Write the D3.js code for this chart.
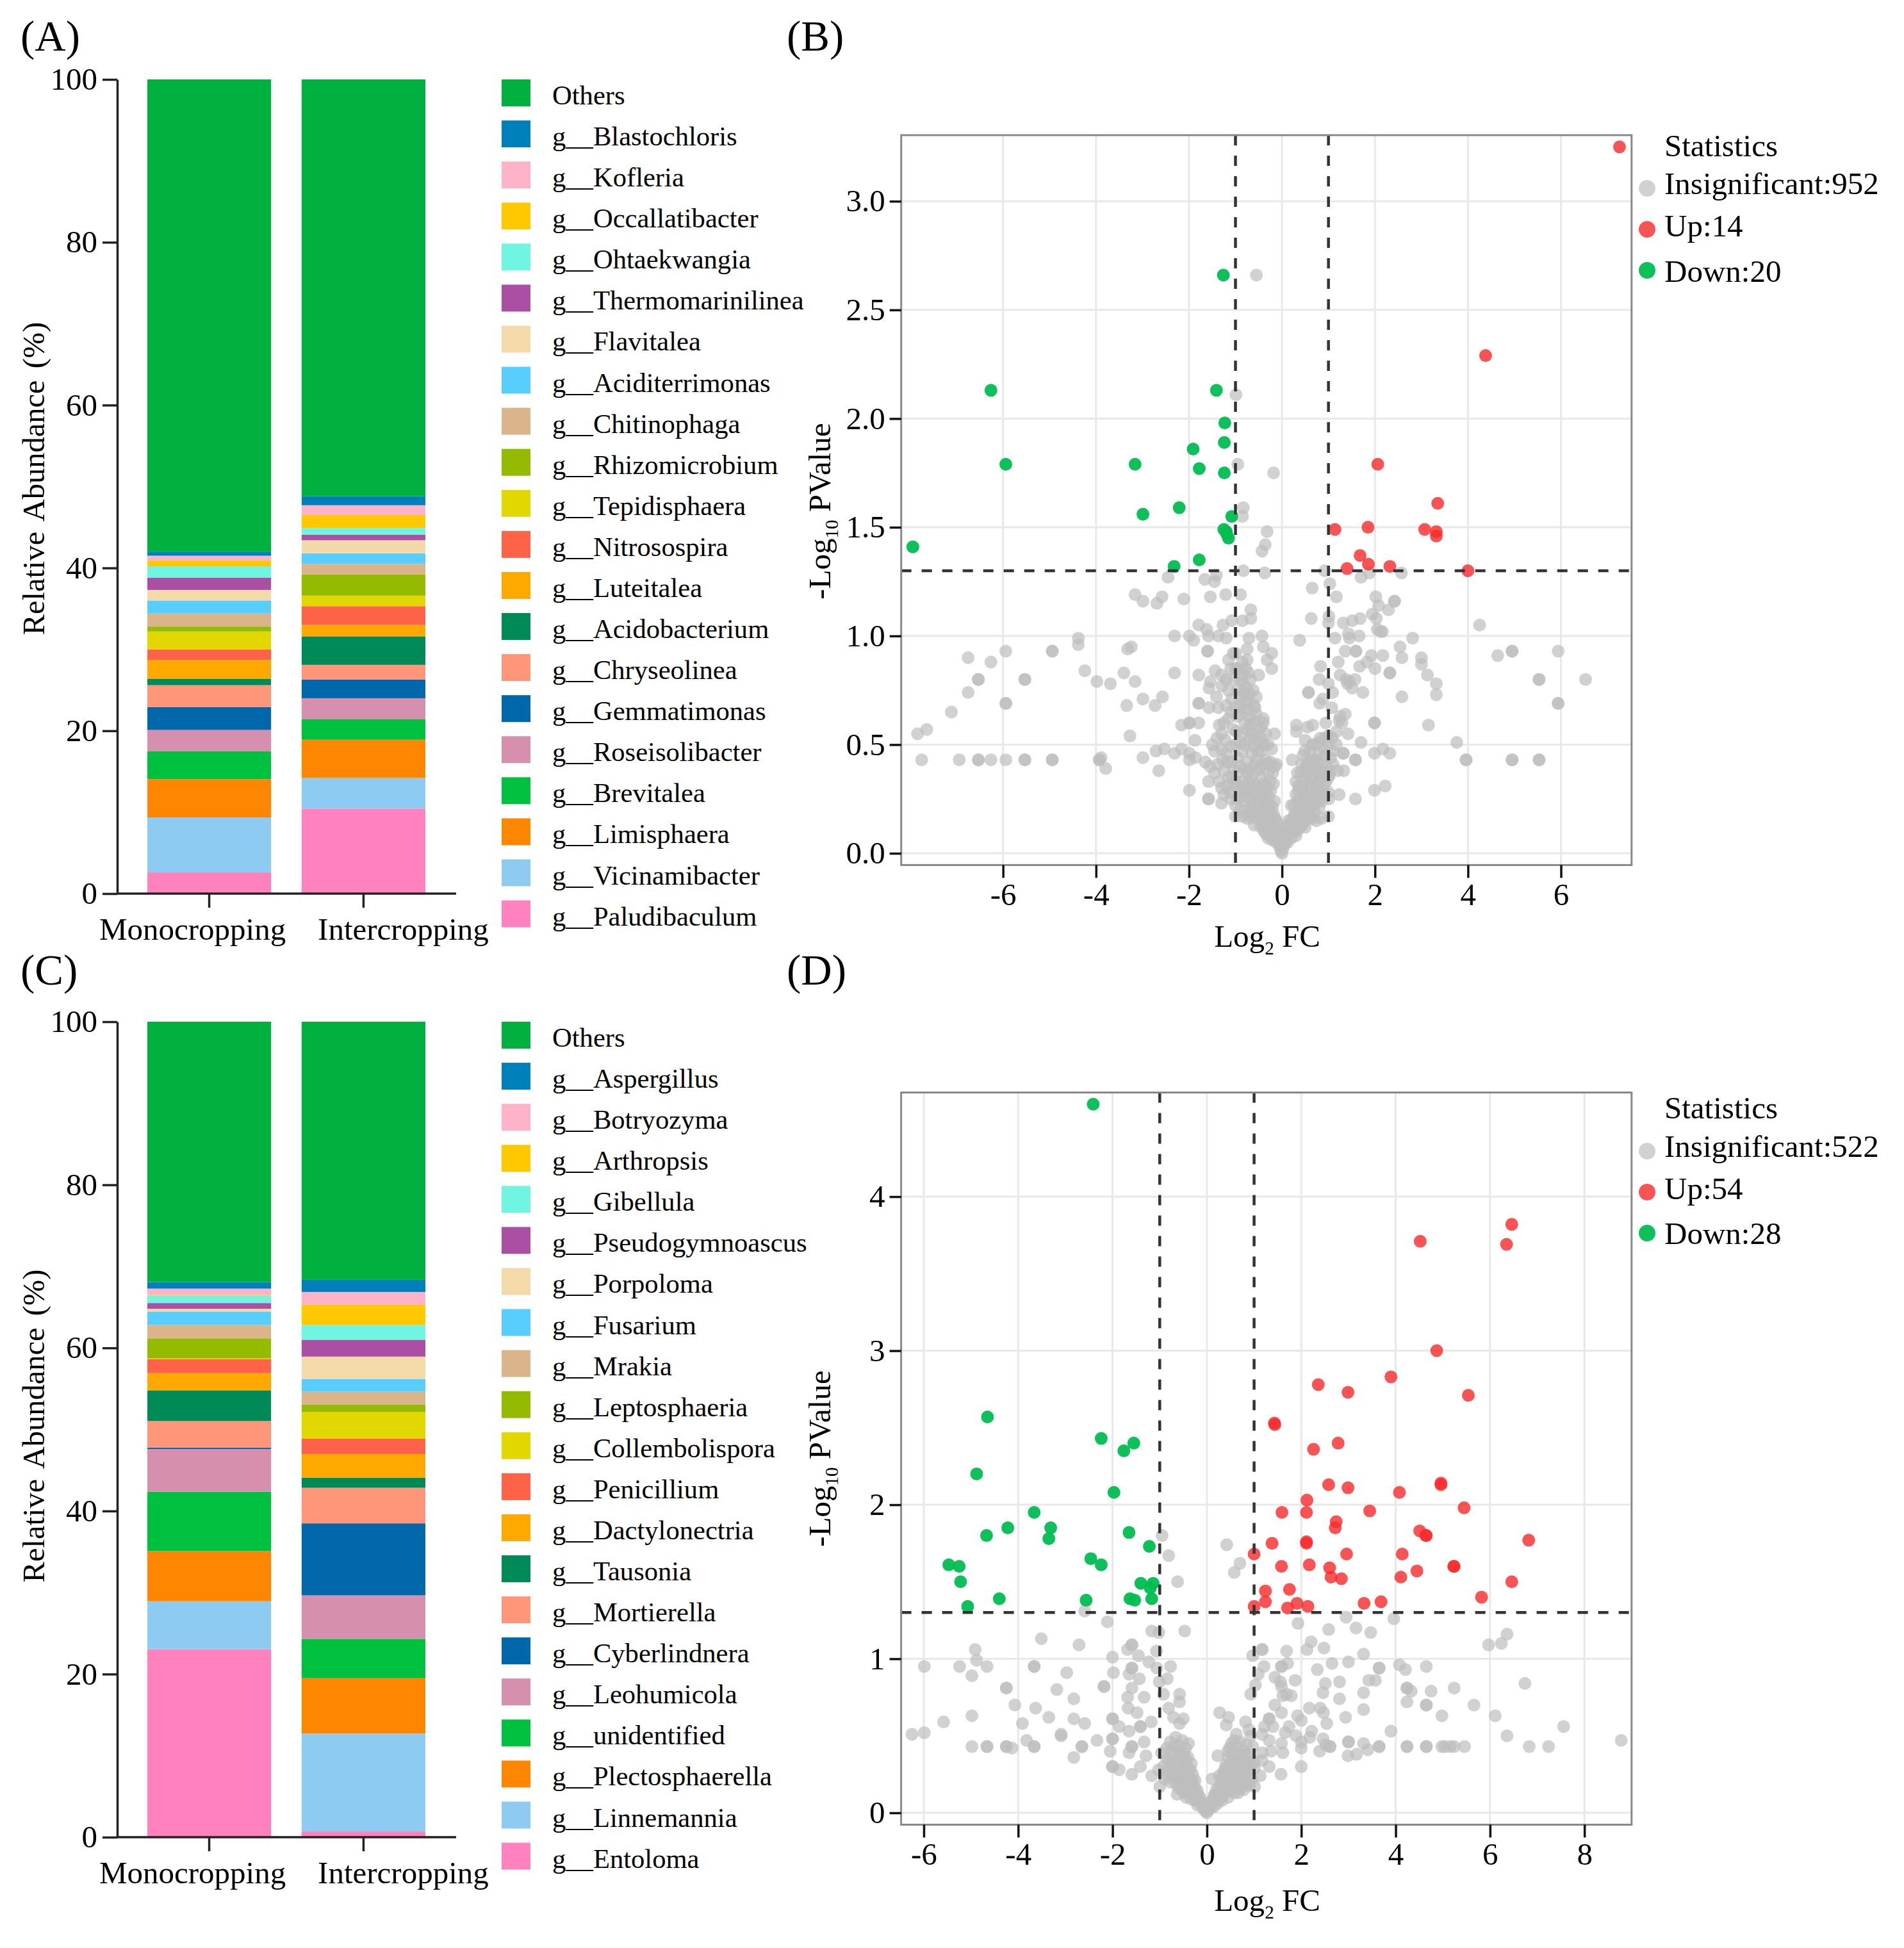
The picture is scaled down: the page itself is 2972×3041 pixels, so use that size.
<!DOCTYPE html>
<html>
<head>
<meta charset="utf-8">
<script src="https://cdn.jsdelivr.net/npm/d3@7"></script>
<style>
  body { margin: 0; background: #fff; }
  text { font-family: "Liberation Serif", serif; fill: #000; }
</style>
</head>
<body>
<div id="chart"></div>
<script>
// stacked bars, bottom segment first
const groups = ["Monocropping", "Intercropping"];
const barColors = ["#FF82BF", "#8ECBF2", "#FF8600", "#00C040", "#D78FAE", "#0068AA", "#FF9679", "#008A57", "#FFA800", "#FF6347", "#E2D700", "#95BB00", "#DBB48A", "#58CEFF", "#F4D9A9", "#AB4FA5", "#70F5E3", "#FFC800", "#FFB3C9", "#0080BB", "#00B140"];

const generaA = ["g__Paludibaculum", "g__Vicinamibacter", "g__Limisphaera", "g__Brevitalea", "g__Roseisolibacter", "g__Gemmatimonas", "g__Chryseolinea", "g__Acidobacterium", "g__Luteitalea", "g__Nitrosospira", "g__Tepidisphaera", "g__Rhizomicrobium", "g__Chitinophaga", "g__Aciditerrimonas", "g__Flavitalea", "g__Thermomarinilinea", "g__Ohtaekwangia", "g__Occallatibacter", "g__Kofleria", "g__Blastochloris", "Others"];
const monoA = [2.6, 6.76, 4.7, 3.41, 2.63, 2.8, 2.7, 0.8, 2.3, 1.3, 2.2, 0.6, 1.6, 1.6, 1.3, 1.5, 1.4, 0.7, 0.6, 0.5, 58];
const interA = [10.44, 3.76, 4.7, 2.5, 2.6, 2.3, 1.8, 3.5, 1.4, 2.3, 1.3, 2.6, 1.3, 1.3, 1.6, 0.7, 0.8, 1.6, 1.2, 1.1, 51.2];

const generaC = ["g__Entoloma", "g__Linnemannia", "g__Plectosphaerella", "g__unidentified", "g__Leohumicola", "g__Cyberlindnera", "g__Mortierella", "g__Tausonia", "g__Dactylonectria", "g__Penicillium", "g__Collembolispora", "g__Leptosphaeria", "g__Mrakia", "g__Fusarium", "g__Porpoloma", "g__Pseudogymnoascus", "g__Gibellula", "g__Arthropsis", "g__Botryozyma", "g__Aspergillus", "Others"];
const monoC = [23.04, 5.89, 6.14, 7.3, 5.23, 0.18, 3.25, 3.77, 2.1, 1.7, 0.12, 2.45, 1.63, 1.66, 0.34, 0.7, 0.9, 0.1, 0.77, 0.8, 31.93];
const interC = [0.7, 12, 6.8, 4.82, 5.33, 8.83, 4.37, 1.24, 2.89, 1.88, 3.29, 0.88, 1.6, 1.57, 2.73, 2.07, 1.8, 2.5, 1.56, 1.49, 31.65];

const barTicks = [0, 20, 40, 60, 80, 100];

// volcano points [log2FC, -log10 p]
const downB = [[-1.26,2.66],[-6.26,2.13],[-5.94,1.79],[-3.16,1.79],[-1.41,2.13],[-1.23,1.98],[-1.24,1.89],[-1.91,1.86],[-1.78,1.77],[-1.24,1.75],[-2.21,1.59],[-2.99,1.56],[-1.08,1.55],[-1.25,1.49],[-1.2,1.48],[-1.19,1.47],[-1.15,1.45],[-7.94,1.41],[-1.78,1.35],[-2.32,1.32]];
const upB = [[7.26,3.25],[4.38,2.29],[2.06,1.79],[3.35,1.61],[1.14,1.49],[1.85,1.5],[3.07,1.49],[3.32,1.48],[3.32,1.46],[1.68,1.37],[1.4,1.31],[1.86,1.33],[2.32,1.32],[4,1.3]];
const greyB = [[-7.84,.55],[-7.64,.57],[-7.75,.43],[-6.94,.43],[-6.53,.43],[-6.53,.43],[-6.26,.43],[-5.94,.43],[-5.53,.43],[-5.53,.43],[-4.94,.43],[-4.94,.43],[-6.75,.9],[-6.26,.88],[-5.94,.93],[-4.94,.93],[-4.94,.93],[-6.53,.8],[-6.53,.8],[-5.53,.8],[-5.53,.8],[-6.75,.74],[-5.94,.69],[-5.94,.69],[-7.11,.65],[-4.38,.99],[-4.38,.96],[-4.24,.84],[-3.98,.79],[-3.69,.78],[-3.4,.83],[-3.16,.79],[-3.32,.94],[-3.24,.95],[-2.99,.71],[-2.57,.72],[-3.34,.68],[-2.73,.68],[-3.27,.54],[-2.99,.44],[-3.93,.43],[-3.93,.43],[-3.89,.44],[-3.79,.39],[-2.71,.47],[-2.53,.48],[-2.65,.38],[-2.31,.46],[-2.16,.48],[-2.31,.83],[-2.31,1],[-1.99,1],[-1.9,.98],[-1.79,.82],[-1.79,.69],[-1.79,.69],[-2.16,.59],[-1.99,.6],[-1.99,.6],[-1.79,.6],[-1.87,.52],[-1.99,.29],[-1.58,.33],[-1.58,.25],[-1.58,.25],[-1.3,.23],[-1.99,.43],[-1.86,.44],[-1.99,.46],[-1.6,.93],[-1.6,.93],[-1.79,1.05],[-1.62,1.03],[-1.58,1],[-1.27,1.05],[-1.37,1],[-1.2,.99],[-1.08,1.07],[-.85,1.07],[-.67,1.12],[-.67,1.08],[-.43,1],[-.71,.99],[-.4,.95],[-.22,.92],[-.32,.89],[-.22,.85],[-.5,.82],[-.75,.94],[-.75,.89],[-1,.92],[-1.15,.89],[-1.44,.84],[-1.3,.82],[-1.54,.79],[-1.57,.76],[-1.29,.77],[-1.41,.72],[-1.57,.67],[-1.37,.67],[-1.08,.71],[-.83,.78],[-.55,.72],[-.58,.67],[-.4,.62],[-.67,.62],[-.16,.55],
  [-.55,2.66],[-.99,2.11],[-.95,1.79],[-.18,1.75],[-.83,1.59],[-.85,1.55],[-.32,1.48],[-.36,1.42],[-.43,1.39],[-.83,1.3],[-.37,1.29],[-2.45,1.27],[-1.66,1.26],[-1.45,1.25],[-1.41,1.28],[-3.16,1.19],[-2.99,1.16],[-2.69,1.15],[-2.58,1.18],[-2.11,1.17],[-1.54,1.18],[-1.21,1.19],[-.89,1.19],[.92,1.3],[.65,1.22],[1.03,1.24],[1.17,1.18],
  [4.25,1.05],[4.64,.91],[4.95,.93],[4.95,.93],[5.94,.93],[5.53,.8],[5.53,.8],[6.53,.8],[5.94,.69],[5.94,.69],[3.76,.51],[3.96,.43],[3.96,.43],[4.95,.43],[4.95,.43],[5.53,.43],[5.53,.43],[3.15,.59],[3.32,.78],[3.32,.73],[3.13,.82],[3,.9],[3,.87],[2.81,.99],[2.54,.95],[2.58,.9],[2.32,.83],[2.32,.83],[2.58,.72],[2.42,1.16],[2.42,1.16],[2.29,1.12],[2.02,1.18],[2.08,1.14],[1.94,1.1],[2.03,1.08],[1.68,1.08],[1.51,1.07],[1.32,1.06],[1.66,1],[1.43,1.01],[1.45,.99],[1.14,.99],[2.05,1.03],[2.12,1.02],[2.16,1.02],[1.36,.93],[1.59,.93],[1.59,.93],[1.92,.91],[2.17,.91],[1.83,.88],[2,.85],[1.67,.86],[1.21,.88],[1.25,.82],[.83,.86],[.8,.8],[1,.78],[1.45,.79],[1.38,.8],[1.57,.8],[1.41,.78],[1.51,.76],[1.74,.74],[1.09,.74],[.57,.74],[.57,.74],[.88,.71],[.81,.69],[1.07,.67],[1.36,.64],[1.25,.63],[1.23,.61],[1.29,.6],[.94,.6],[1.99,.6],[1.99,.6],[.31,.59],[.31,.56],[.55,.58],[.66,.59],[1.42,.55],[1.17,.56],[.99,.54],[1.7,.51],[.79,.51],[.65,.5],[1.17,.5],[1,.5],[.49,.47],[1.32,.46],[1.32,.46],[2.17,.48],[1.99,.46],[2.32,.46],[1.58,.43],[1.58,.43],[.22,.43],[.75,.43],[.57,.42],[.93,.45],[1.2,.38],[1.33,.38],[.86,.38],[1.02,.36],[.33,.37],[.49,.39],[2.22,.31],[1.99,.29],[1.23,.27],[1.58,.25],[1,.28],[1.01,.25],[.85,.16],[1,.17],[.38,.98],[.63,1.08],[1.01,1.09],[1,1.06],[1.7,1.27],[1.88,1.29],[2.57,1.29],
  [-1.65,.42],[-1.55,.4],[-1.45,.47],[-1.3,.48],[-1.2,.46],[-1.1,.42],[-.95,.44],[-.85,.47],[-.75,.42],[-.65,.46],[-.55,.43],[-.45,.47],[-.35,.43],[-.25,.42],[-.12,.41],[-1.45,.37],[-1.35,.33],[-1.25,.38],[-1.15,.35],[-1.05,.31],[-.95,.37],[-.85,.33],[-.75,.37],[-.65,.34],[-.55,.38],[-.45,.35],[-.35,.31],[-.3,.37],[-1.25,.27],[-1.1,.25],[-1,.22],[-.9,.28],[-.8,.24],[-.72,.29],[-.65,.22],[-.58,.27],[-.5,.24],[-.42,.29],[-.35,.22],[-.28,.26],[-.2,.21],[-1,.17],[-.75,.16],[-.68,.19],[-.6,.13],[-.52,.18],[-.45,.12],[-.4,.17],[-.33,.14],[-.27,.19],[-.2,.11],[-.15,.16],[-.1,.1],[-.35,.09],[-.3,.07],[-.25,.1],[-.2,.06],[-.16,.09],[-.12,.05],[-.08,.07],[-.05,.03],[-.02,.01],[0,0],[.02,.02],[.05,.04],[.08,.06],[.12,.05],[.15,.09],[.2,.07],[.25,.1],[.3,.08],[.35,.11],[.12,.13],[.2,.15],[.28,.18],[.35,.14],[.42,.19],[.5,.15],[.55,.2],[.62,.17],[.7,.19],[.2,.22],[.3,.27],[.38,.24],[.45,.29],[.52,.23],[.6,.28],[.68,.24],[.75,.29],[.82,.25],[.9,.28],[.3,.33],[.4,.37],[.48,.32],[.55,.38],[.63,.34],[.7,.39],[.78,.33],[.85,.37],[.95,.33],[1.05,.38],[.45,.45],[.6,.47],[.7,.42],[.8,.46],[.9,.48],[1.05,.44],[1.1,.47],[-1.3,.55],[-1.15,.62],[-1.05,.57],[-.95,.63],[-.85,.55],[-.8,.6],[-.72,.66],[-.65,.55],[-.6,.61],[-.52,.57],[-.45,.53],[-.4,.6],[-1.25,.6],[-1.1,.65],[-.9,.68],[-.75,.7],[-.6,.68],[-.7,.52],[-.5,.51],[-1.15,.75],[-1.05,.8],[-.95,.75],[-.85,.82],[-.8,.7],[-.75,.76],[-.68,.8],[-.62,.75],[-1.1,.85],[-.95,.85],[-.85,.88],[-.78,.85],[-1.05,.92],
  [-.42,.13],[-.38,.1],[-.31,.12],[-.27,.08],[-.23,.13],[-.18,.08],[-.13,.12],[-.09,.06],[-.06,.09],[-.03,.04],[-.44,.15],[-.36,.15],[-.29,.16],[-.22,.17],[-.12,.15],[-.07,.13],[-.9,.2],[-.85,.17],[-.78,.2],[-.7,.17],[-.62,.19],[-.55,.16],[-.48,.2],[-.38,.2],[-.32,.24],[-.25,.22],[-.18,.18],[-.95,.25],[-.86,.26],[-.77,.28],[-.68,.25],[-.6,.24],[-.53,.29],[-.46,.26],[-.39,.25],[-.33,.29],[-.24,.29],[-.16,.24],[-1.3,.3],[-1.18,.31],[-1.12,.28],[-1.07,.35],[-1,.33],[-.9,.31],[-.8,.29],[-.71,.33],[-.6,.32],[-.5,.3],[-.4,.32],[-.26,.33],[-.18,.32],[-1.38,.41],[-1.28,.43],[-1.18,.42],[-1.04,.39],[-.9,.4],[-.8,.39],[-.7,.38],[-.58,.41],[-.49,.39],[-.41,.41],[-.3,.41],[-.2,.37],[-.15,.4],[-1.5,.5],[-1.4,.53],[-1.22,.52],[-1.1,.49],[-1,.5],[-.9,.51],[-.8,.5],[-.6,.49],[-.52,.47],[-.38,.5],[-.3,.5],[-.22,.48],[-1.35,.59],[-.98,.56],[-.75,.57],[-.68,.59],[-.58,.53],[-.45,.58],[-.35,.55],[-1.2,.68],[-1,.67],[-.88,.64],[-.8,.66],[-.7,.73],[-.55,.64],[-.9,.72],[-.83,.74],[-1,.85],[-.9,.8],[-.72,.83],[-1.2,.8],
  [.1,.09],[.16,.12],[.22,.11],[.29,.1],[.33,.13],[.38,.12],[.44,.13],[.5,.12],[.08,.1],[.14,.15],[.25,.17],[.33,.19],[.38,.18],[.45,.17],[.5,.19],[.58,.16],[.66,.16],[.74,.15],[.25,.22],[.33,.24],[.42,.22],[.48,.26],[.56,.26],[.64,.22],[.72,.23],[.8,.21],[.35,.29],[.62,.25],[.7,.26],[.78,.27],[.86,.24],[.36,.31],[.44,.33],[.52,.36],[.6,.31],[.68,.36],[.75,.31],[.82,.35],[.9,.31],[1,.35],[.55,.41],[.65,.43],[.75,.38],[.85,.41],[.95,.4],[1.1,.41],[.42,.41],[.7,.5],[.82,.53],[.92,.53],[1.08,.53],[.5,.52]];

const downD = [[-2.41,4.6],[-4.65,2.57],[-2.24,2.43],[-1.55,2.4],[-1.76,2.35],[-4.88,2.2],[-1.97,2.08],[-3.66,1.95],[-4.22,1.85],[-3.31,1.85],[-3.35,1.78],[-4.67,1.8],[-1.65,1.82],[-1.22,1.73],[-2.46,1.65],[-2.24,1.61],[-5.47,1.61],[-5.25,1.6],[-5.22,1.5],[-4.4,1.39],[-5.07,1.34],[-2.56,1.38],[-1.63,1.39],[-1.53,1.38],[-1.17,1.39],[-1.2,1.46],[-1.14,1.49],[-1.4,1.49]];
const upD = [[1,1.68],[1.38,1.75],[2.11,1.76],[2.96,1.68],[4.14,1.68],[1.58,1.6],[2.17,1.61],[2.6,1.59],[2.63,1.53],[2.85,1.52],[4.11,1.53],[1.24,1.44],[1.75,1.45],[1.24,1.37],[1,1.34],[1.71,1.33],[1.91,1.36],[2.14,1.34],[3.33,1.36],[3.69,1.37],[6.46,3.82],[4.52,3.71],[6.35,3.69],[4.87,3],[3.9,2.83],[2.36,2.78],[2.99,2.73],[5.54,2.71],[2.78,2.4],[2.26,2.36],[2.58,2.13],[2.99,2.11],[4.08,2.08],[4.96,2.14],[4.96,2.13],[2.12,2.03],[2.11,1.95],[1.59,1.95],[3.45,1.96],[5.45,1.98],[2.74,1.89],[2.72,1.85],[4.51,1.83],[4.64,1.8],[4.65,1.8],[6.82,1.77],[2.11,1.75],[4.45,1.57],[5.23,1.6],[5.24,1.6],[6.46,1.5],[5.82,1.4],[1.43,2.53],[1.44,2.52]];
const greyD = [[-6.25,.51],[-5.99,.52],[-5.58,.59],[-4.98,.63],[-4.98,.43],[-4.66,.43],[-4.66,.43],[-4.25,.43],[-4.25,.43],[-4.13,.42],[-3.82,.47],[-3.66,.43],[-3.66,.43],[-3.91,.58],[-4.07,.7],[-3.63,.68],[-3.35,.62],[-3.09,.51],[-3.09,.5],[-2.82,.61],[-2.59,.58],[-2.82,.36],[-2.65,.43],[-2.65,.43],[-2.33,.47],[-5.99,.95],[-5.24,.95],[-4.98,.89],[-4.88,.99],[-4.91,1.06],[-4.66,.95],[-4.25,.81],[-4.25,.81],[-3.66,.95],[-3.66,.95],[-2.97,.91],[-3.18,.8],[-2.82,.74],[-2.18,.82],[-2.18,.82],[-3.51,1.13],[-2.71,1.09],[-2.11,1.24],[-2.59,1.31],[-2,1.01],[-1.98,.91],[-1.68,1.06],[-1.59,1.09],[-1.59,1.09],[-1.45,1.02],[-1.59,.94],[-1.59,.94],[-1.65,.9],[-1.43,.87],[-1.23,.98],[-1.06,.94],[-1.07,1.05],[-1.17,1.18],[-1.02,1.17],[-.47,1.18],[-.77,.95],[-.84,.87],[-1.01,.85],[-1.59,.81],[-1.68,.75],[-1.33,.75],[-.92,.77],[-.58,.77],[-.58,.72],[-1.67,.68],[-1.48,.65],[-.81,.68],[-2,.61],[-2,.61],[-1.86,.56],[-1.65,.53],[-1.41,.56],[-1.41,.56],[-1.18,.59],[-.71,.62],[-.5,.61],[-.58,.58],[-2,.48],[-2,.48],[-1.33,.46],[-1.59,.43],[-1.59,.43],[-2.05,.4],[-1.65,.39],[-1.29,.37],[-2,.3],[-2,.3],[-1.86,.28],[-1.59,.25],[-1.41,.3],[-1.17,.24],[-1,.17],[-.96,.39],[-.71,.43],[-.39,.45],[-.43,.34],[-1.02,.28],[-.75,.25],[-.63,.12],
  [.27,.65],[.46,.62],[.41,.57],[.82,.59],[.23,.37],[.11,.22],[.97,1.02],[1.17,1.06],[1.17,1.06],[1.21,.95],[1.09,.9],[1.03,.83],[.93,.77],[1.69,1.05],[1.93,1.23],[2.58,1.19],[2.95,1.27],[3.16,1.2],[3.47,1.17],[2.21,1.11],[2.12,1.06],[2.48,1.07],[3.32,1.03],[3.96,1.26],[1.58,.95],[1.58,.95],[1.71,.97],[2.34,.93],[2.65,.97],[3,.98],[3.65,.94],[3.65,.94],[4.08,.96],[1.44,.88],[1.56,.85],[1.87,.86],[2.51,.84],[2.81,.85],[3.43,.86],[3.57,.86],[1.58,.82],[1.61,.76],[1.69,.77],[1.79,.76],[2.46,.78],[2.81,.74],[3.32,.78],[1.44,.7],[1.58,.65],[2.17,.68],[2.4,.68],[2.47,.65],[2.54,.58],[2.94,.62],[3.32,.67],[1.32,.61],[1.32,.61],[1.4,.56],[1.22,.56],[1.92,.63],[2,.6],[1.74,.56],[2.22,.53],[1.17,.51],[1.66,.52],[1.89,.5],[2,.46],[2.18,.49],[2.46,.48],[1.32,.47],[1.58,.45],[2.61,.43],[2.61,.43],[3,.46],[3,.46],[3.32,.45],[3.65,.43],[3.65,.43],[3.9,.53],[2.52,.44],[2.39,.4],[3.41,.41],[2.99,.37],[3.17,.38],[1.17,.39],[1.36,.4],[1.61,.39],[2,.42],[1.17,.34],[1.32,.3],[2,.3],[1.57,.25],[1.13,.24],[1.01,.29],[1.01,.17],[.82,.38],[.97,.43],[.62,.51],[.52,.45],[.93,.5],[.89,.54],
  [6.36,1.16],[6.24,1.1],[5.97,1.09],[4.21,.93],[4.65,.95],[6.74,.84],[4.24,.81],[4.24,.81],[4.33,.79],[4.75,.79],[5.24,.81],[4.24,.72],[4.65,.7],[4.65,.7],[4.98,.63],[5.66,.7],[6.11,.63],[7.56,.56],[6.36,.5],[6.83,.43],[7.24,.43],[8.78,.47],[4.24,.43],[4.24,.43],[4.65,.43],[4.65,.43],[4.98,.43],[5.04,.43],[5.16,.43],[5.24,.43],[5.46,.43],
  [-.95,1.8],[-.81,1.67],[-.62,1.5],[.42,1.74],[.7,1.62],[.58,1.56],
  [-.25,.08],[-.2,.05],[-.15,.07],[-.1,.04],[-.06,.02],[-.02,.01],[0,0],[.03,.02],[.07,.03],[.1,.06],[.14,.04],[.18,.08],[.22,.06],[.27,.09],[.32,.08],[-.55,.18],[-.48,.13],[-.42,.17],[-.36,.12],[-.3,.16],[-.25,.11],[-.2,.14],[-.15,.1],[.15,.11],[.2,.15],[.25,.12],[.3,.17],[.36,.13],[.42,.18],[.48,.14],[.55,.19],[.62,.16],[.7,.19],[.78,.15],[.85,.18],[-.8,.28],[-.72,.23],[-.65,.27],[-.58,.22],[-.5,.27],[-.42,.23],[-.35,.28],[-.3,.21],[.3,.22],[.36,.27],[.42,.23],[.48,.28],[.55,.24],[.62,.29],[.68,.25],[.75,.29],[.82,.24],[.9,.27],[.95,.22],[-.85,.35],[-.75,.41],[-.68,.33],[-.62,.44],[-.55,.37],[-.5,.33],[-.45,.42],[.4,.31],[.45,.36],[.5,.33],[.55,.38],[.6,.34],[.66,.39],[.72,.34],[.78,.4],[.48,.42],[.58,.47],[.85,.33],[.92,.36],
  [-.5,.14],[-.44,.1],[-.38,.14],[-.33,.09],[-.27,.14],[-.22,.09],[-.17,.11],[-.12,.07],[-.08,.06],[-.6,.16],[-.66,.19],[-.52,.2],[-.4,.2],[-.33,.19],[-.24,.16],[-.9,.22],[-.84,.24],[-.78,.2],[-.7,.28],[-.62,.25],[-.54,.24],[-.46,.3],[-.38,.27],[-.3,.25],[-.25,.21],[-.92,.3],[-.8,.33],[-.72,.36],[-.64,.31],[-.58,.4],[-.48,.38],[-.4,.36],[-.33,.32],[-.85,.42],[-.78,.46],[-.66,.49],[-.52,.47],
  [.06,.07],[.12,.08],[.17,.12],[.22,.1],[.28,.13],[.33,.11],[.38,.15],[.45,.1],[.52,.17],[.58,.13],[.66,.13],[.72,.16],[.8,.2],[.9,.18],[.26,.17],[.35,.19],[.26,.24],[.34,.25],[.39,.29],[.45,.22],[.52,.3],[.58,.22],[.65,.31],[.72,.27],[.8,.3],[.88,.23],[.93,.31],[1,.33],[.44,.4],[.62,.43],[.7,.46],[.75,.37],[.84,.44]];

const xTicksB = [-6, -4, -2, 0, 2, 4, 6];
const yTicksB = [0, 0.5, 1, 1.5, 2, 2.5, 3];
const xTicksD = [-6, -4, -2, 0, 2, 4, 6, 8];
const yTicksD = [0, 1, 2, 3, 4];

const width = 2972;
const height = 3041;
const svg = d3.select("#chart").append("svg")
    .attr("width", width)
    .attr("height", height)
    .style("display", "block");

// panel letters
[["(A)", 32, 79], ["(B)", 1228, 79], ["(C)", 32, 1537], ["(D)", 1228, 1537]].forEach(function(d) {
    svg.append("text").attr("x", d[1]).attr("y", d[2]).attr("font-size", 67).text(d[0]);
});

function stackedBars(genera, mono, inter, top, bottom, titleY) {
    const rows = groups.map(function(g, i) {
        const row = { group: g };
        genera.forEach(function(name, j) { row[name] = i == 0 ? mono[j] : inter[j]; });
        return row;
    });
    const series = d3.stack().keys(genera)(rows);

    const x = d3.scaleBand().domain(groups).range([230, 664]).paddingInner(0.198).paddingOuter(0);
    const y = d3.scaleLinear().domain([0, 100]).range([bottom, top]);
    const color = d3.scaleOrdinal().domain(genera).range(barColors);

    const g = svg.append("g");
    g.selectAll("g.layer")
        .data(series)
        .join("g")
        .attr("class", "layer")
        .attr("fill", function(d) { return color(d.key); })
        .selectAll("rect")
        .data(function(d) { return d; })
        .join("rect")
        .attr("x", function(d) { return x(d.data.group); })
        .attr("width", x.bandwidth())
        .attr("y", function(d) { return y(d[1]); })
        .attr("height", function(d) { return y(d[0]) - y(d[1]); });

    // axes
    const yAxis = g.append("g")
        .attr("transform", "translate(183,0)")
        .call(d3.axisLeft(y).tickValues(barTicks).tickSize(23).tickPadding(8).tickSizeOuter(0));
    const xAxis = g.append("g")
        .attr("transform", "translate(0," + bottom + ")")
        .call(d3.axisBottom(x).tickSize(22).tickPadding(15).tickSizeOuter(0));
    xAxis.select(".domain").remove();
    xAxis.append("line").attr("x1", 183).attr("x2", 712).attr("stroke", "#222").attr("stroke-width", 3.5);
    [yAxis, xAxis].forEach(function(a) {
        a.attr("font-family", null).attr("font-size", 49);
        a.selectAll("line").attr("stroke", "#222").attr("stroke-width", 3.5);
        a.select(".domain").attr("stroke", "#222").attr("stroke-width", 3.5);
    });
    // the group labels are not centred under the bars in the original
    xAxis.selectAll(".tick text").attr("dx", function(d) { return d == "Monocropping" ? -26 : 62; });

    g.append("text")
        .attr("transform", "translate(69," + titleY + ") rotate(-90)")
        .attr("text-anchor", "middle")
        .attr("font-size", 48.5)
        .attr("word-spacing", 6)
        .text("Relative Abundance (%)");

    // legend, top entry is the last stacked series
    const legend = g.selectAll("g.entry")
        .data(genera.slice().reverse())
        .join("g")
        .attr("class", "entry")
        .attr("transform", function(d, i) { return "translate(783," + (top + i * 64.08) + ")"; });
    legend.append("rect")
        .attr("width", 45).attr("height", 42)
        .attr("fill", function(d) { return color(d); });
    legend.append("text")
        .attr("x", 79).attr("y", 39)
        .attr("font-size", 42.6)
        .text(function(d) { return d; });
}

stackedBars(generaA, monoA, interA, 124, 1395, 747);
stackedBars(generaC, monoC, interC, 1595, 2868, 2226);

const dotStyle = {
    grey: { fill: "#BEBEBE", opacity: 0.7 },
    up: { fill: "#F8292B", opacity: 0.8 },
    down: { fill: "#00BD50", opacity: 0.95 }
};

function volcano(o) {
    const x = d3.scaleLinear().domain(o.xDomain).range([o.left, o.right]);
    const y = d3.scaleLinear().domain(o.yDomain).range([o.bottom, o.top]);
    const g = svg.append("g");

    // grid
    g.append("g").selectAll("line").data(o.xTicks).join("line")
        .attr("x1", function(d) { return x(d); }).attr("x2", function(d) { return x(d); })
        .attr("y1", o.top).attr("y2", o.bottom)
        .attr("stroke", "#E8E8E8").attr("stroke-width", 3);
    g.append("g").selectAll("line").data(o.yTicks).join("line")
        .attr("y1", function(d) { return y(d); }).attr("y2", function(d) { return y(d); })
        .attr("x1", o.left).attr("x2", o.right)
        .attr("stroke", "#E8E8E8").attr("stroke-width", 3);

    // points
    [["grey", o.grey], ["up", o.up], ["down", o.down]].forEach(function(s) {
        g.append("g").selectAll("circle").data(s[1]).join("circle")
            .attr("cx", function(d) { return x(d[0]); })
            .attr("cy", function(d) { return y(d[1]); })
            .attr("r", 10)
            .attr("fill", dotStyle[s[0]].fill)
            .attr("opacity", dotStyle[s[0]].opacity);
    });

    // thresholds
    [-1, 1].forEach(function(v) {
        g.append("line")
            .attr("x1", x(v)).attr("x2", x(v)).attr("y1", o.top).attr("y2", o.bottom)
            .attr("stroke", "#333").attr("stroke-width", 4.5).attr("stroke-dasharray", "16,16");
    });
    g.append("line")
        .attr("x1", o.left).attr("x2", o.right).attr("y1", y(1.3)).attr("y2", y(1.3))
        .attr("stroke", "#333").attr("stroke-width", 4.5).attr("stroke-dasharray", "16,16");

    g.append("rect")
        .attr("x", o.left).attr("y", o.top)
        .attr("width", o.right - o.left).attr("height", o.bottom - o.top)
        .attr("fill", "none").attr("stroke", "#888").attr("stroke-width", 3);

    // plain hyphen on the negative ticks, as in the original
    const xAxis = g.append("g").attr("transform", "translate(0," + o.bottom + ")")
        .call(d3.axisBottom(x).tickValues(o.xTicks).tickFormat(function(d) { return String(d); }).tickSize(20).tickPadding(8));
    const yAxis = g.append("g").attr("transform", "translate(" + o.left + ",0)")
        .call(d3.axisLeft(y).tickValues(o.yTicks).tickFormat(o.yFormat).tickSize(18).tickPadding(7));
    [xAxis, yAxis].forEach(function(a) {
        a.attr("font-family", null).attr("font-size", 49);
        a.select(".domain").remove();
        a.selectAll("line").attr("stroke", "#111").attr("stroke-width", 3.5);
    });

    // axis titles with subscripts
    const xTitle = g.append("text")
        .attr("x", 1978).attr("y", o.xTitleY)
        .attr("text-anchor", "middle").attr("font-size", 49);
    xTitle.append("tspan").text("Log");
    xTitle.append("tspan").attr("font-size", 29).attr("dy", 12).text("2");
    xTitle.append("tspan").attr("dy", -12).text(" FC");

    const yTitle = g.append("text")
        .attr("transform", "translate(1296," + o.yTitleY + ") rotate(-90)")
        .attr("text-anchor", "middle").attr("font-size", 49);
    yTitle.append("tspan").text("-Log");
    yTitle.append("tspan").attr("font-size", 29).attr("dy", 12).text("10");
    yTitle.append("tspan").attr("dy", -12).text(" PValue");

    // legend
    g.append("text").attr("x", 2598).attr("y", o.legendY[0]).attr("font-size", 49).text("Statistics");
    const rows = [["grey", "Insignificant:" + o.grey.total], ["up", "Up:" + o.up.length], ["down", "Down:" + o.down.length]];
    rows.forEach(function(r, i) {
        g.append("circle").attr("cx", 2571).attr("cy", o.legendDot[i]).attr("r", 13)
            .attr("fill", dotStyle[r[0]].fill).attr("opacity", dotStyle[r[0]].opacity);
        g.append("text").attr("x", 2598).attr("y", o.legendY[i + 1]).attr("font-size", 49).text(r[1]);
    });
}

// the legend counts every gene, not only the grey dots that could be read off
greyB.total = 952;
greyD.total = 522;

volcano({
    left: 1406.7, right: 2546.8, top: 211, bottom: 1350.4,
    xDomain: [-8.19, 7.52], yDomain: [-0.054, 3.304],
    xTicks: xTicksB, yTicks: yTicksB, yFormat: d3.format(".1f"),
    grey: greyB, up: upB, down: downB,
    xTitleY: 1478, yTitleY: 798,
    legendY: [244, 303, 369, 440], legendDot: [294, 358, 422]
});
volcano({
    left: 1406.6, right: 2546.8, top: 1705.5, bottom: 2848.5,
    xDomain: [-6.48, 9], yDomain: [-0.077, 4.676],
    xTicks: xTicksD, yTicks: yTicksD, yFormat: d3.format("d"),
    grey: greyD, up: upD, down: downD,
    xTitleY: 2983, yTitleY: 2277,
    legendY: [1746, 1806, 1872, 1942], legendDot: [1797, 1861, 1925]
});
</script>
</body>
</html>
